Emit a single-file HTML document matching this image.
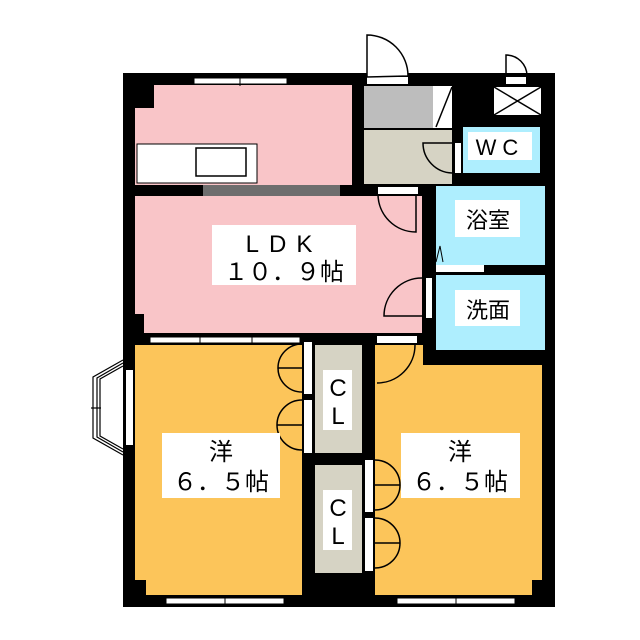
<!DOCTYPE html>
<html><head><meta charset="utf-8"><style>
html,body{margin:0;padding:0;background:#fff;width:640px;height:640px;overflow:hidden}
svg{display:block}
text{font-family:"Liberation Sans","Noto Sans CJK JP",sans-serif;fill:#000}
</style></head><body>
<svg width="640" height="640" viewBox="0 0 640 640">
<rect x="123" y="73" width="432" height="534" fill="#000"/>
<rect x="135" y="85" width="217" height="100" fill="#f9c5c8"/>
<rect x="135" y="85" width="19" height="23" fill="#000"/>
<rect x="137" y="144" width="120" height="39" fill="#fff" stroke="#000" stroke-width="1"/>
<rect x="196" y="148" width="50" height="28" fill="#fff" stroke="#000" stroke-width="1.5"/>
<rect x="203" y="185" width="137" height="11" fill="#6e6e6e"/>
<rect x="194" y="78" width="93" height="6" fill="#fff" stroke="#000" stroke-width="1"/>
<line x1="240" y1="76" x2="240" y2="86" stroke="#000"/>
<rect x="135" y="196" width="287" height="137" fill="#f9c5c8"/>
<rect x="135" y="314" width="9" height="19" fill="#000"/>
<rect x="378" y="187" width="40" height="7" fill="#fff"/>
<path d="M378 194 A38 38 0 0 0 416 232 L416 194" fill="none" stroke="#000" stroke-width="1.5"/>
<path d="M422 278 A38 38 0 0 0 384 316 L422 316" fill="none" stroke="#000" stroke-width="1.5"/>
<rect x="426" y="278" width="6" height="40" fill="#fff"/>
<rect x="364" y="86" width="69" height="42" fill="#bdbdbd"/>
<rect x="433" y="86" width="19" height="42" fill="#fff"/>
<line x1="436" y1="127" x2="452" y2="87" stroke="#000" stroke-width="1.5"/>
<rect x="364" y="130" width="88" height="54" fill="#d6d3c4"/>
<path d="M452 143 L423 143 A30 30 0 0 0 452 173" fill="#d6d3c4" stroke="#000" stroke-width="1.5"/>
<rect x="455" y="143" width="6" height="30" fill="#fff"/>
<rect x="367" y="77" width="41" height="7" fill="#fff"/>
<path d="M367 77 L367 35 A41 41 0 0 1 408 76 Z" fill="#fff" stroke="#000" stroke-width="1.5"/>
<rect x="494" y="87" width="47" height="28" fill="#fff"/>
<path d="M494 87 L541 115 M541 87 L494 115" stroke="#000" stroke-width="1.5"/>
<rect x="506" y="77" width="20" height="7" fill="#fff"/>
<path d="M506 77 L506 55 A21 21 0 0 1 527 76" fill="none" stroke="#000" stroke-width="1.5"/>
<rect x="463" y="127" width="77" height="46" fill="#aeeefe"/>
<rect x="468" y="132" width="64" height="28" fill="#fff"/>
<text x="500" y="155" font-size="22" text-anchor="middle" letter-spacing="6">WC</text>
<rect x="436" y="186" width="109" height="79" fill="#aeeefe"/>
<rect x="436" y="275" width="109" height="75" fill="#aeeefe"/>
<rect x="436" y="265" width="48" height="7" fill="#fff"/>
<path d="M436 262 L440 246 L443 262" fill="none" stroke="#000" stroke-width="1"/>
<rect x="455" y="200" width="65" height="37" fill="#fff"/>
<text x="488" y="228" font-size="22" text-anchor="middle">浴室</text>
<rect x="455" y="290" width="65" height="36" fill="#fff"/>
<text x="488" y="318" font-size="22" text-anchor="middle">洗面</text>
<rect x="212" y="225" width="144" height="60" fill="#fff"/>
<text x="284" y="252" font-size="24" text-anchor="middle" letter-spacing="10">LDK</text>
<text x="284" y="280" font-size="24" text-anchor="middle">１０．９帖</text>
<rect x="135" y="345" width="167" height="250" fill="#fcc55a"/>
<rect x="135" y="580" width="11" height="15" fill="#000"/>
<rect x="375" y="345" width="48" height="20" fill="#fcc55a"/>
<rect x="375" y="365" width="167" height="230" fill="#fcc55a"/>
<rect x="532" y="580" width="10" height="15" fill="#000"/>
<rect x="150" y="337" width="150" height="6" fill="#fff" stroke="#000" stroke-width="1"/>
<line x1="200" y1="335" x2="200" y2="345" stroke="#000"/><line x1="252" y1="335" x2="252" y2="345" stroke="#000"/>
<rect x="377" y="336" width="40" height="7" fill="#fff"/>
<path d="M415 345 A38 38 0 0 1 377 383" fill="none" stroke="#000" stroke-width="1.5"/>
<rect x="166" y="598" width="118" height="6" fill="#fff" stroke="#000" stroke-width="1"/>
<line x1="225" y1="596" x2="225" y2="607" stroke="#000"/>
<rect x="397" y="598" width="118" height="6" fill="#fff" stroke="#000" stroke-width="1"/>
<line x1="456" y1="596" x2="456" y2="607" stroke="#000"/>
<rect x="315" y="345" width="47" height="108" fill="#d6d3c4"/>
<rect x="315" y="465" width="47" height="108" fill="#d6d3c4"/>
<rect x="304" y="342" width="8" height="52" fill="#fff"/>
<rect x="304" y="400" width="8" height="53" fill="#fff"/>
<rect x="365" y="460" width="8" height="52" fill="#fff"/>
<rect x="365" y="518" width="8" height="53" fill="#fff"/>
<g fill="none" stroke="#000" stroke-width="1.5">
<path d="M302 344 A24 24 0 0 0 278 368 L302 368 M278 368 A24 24 0 0 0 302 392"/>
<path d="M302 400 A25 25 0 0 0 277 425 L302 425 M277 425 A25 25 0 0 0 302 450"/>
<path d="M375 460 A25 25 0 0 1 400 485 L375 485 M400 485 A25 25 0 0 1 375 510"/>
<path d="M375 518 A25 25 0 0 1 400 543 L375 543 M400 543 A25 25 0 0 1 375 568"/>
</g>
<rect x="323" y="370" width="29" height="60" fill="#fff"/>
<text x="338" y="396" font-size="24" text-anchor="middle">C</text>
<text x="338" y="424" font-size="24" text-anchor="middle">L</text>
<rect x="323" y="490" width="29" height="60" fill="#fff"/>
<text x="338" y="516" font-size="24" text-anchor="middle">C</text>
<text x="338" y="544" font-size="24" text-anchor="middle">L</text>
<rect x="162" y="433" width="118" height="65" fill="#fff"/>
<text x="221" y="460" font-size="24" text-anchor="middle">洋</text>
<text x="221" y="490" font-size="24" text-anchor="middle">６．５帖</text>
<rect x="401" y="433" width="119" height="65" fill="#fff"/>
<text x="460" y="460" font-size="24" text-anchor="middle">洋</text>
<text x="460" y="490" font-size="24" text-anchor="middle">６．５帖</text>
<rect x="126" y="370" width="7" height="75" fill="#fff"/>
<g fill="none" stroke="#000" stroke-width="1.2">
<path d="M123 360 L93 377 L93 438 L123 455"/>
<path d="M123 363 L97 378 L97 437 L123 452"/>
<path d="M123 366 L100 379 L100 436 L123 449"/>
<line x1="91" y1="408" x2="101" y2="408"/>
</g>
</svg>
</body></html>
